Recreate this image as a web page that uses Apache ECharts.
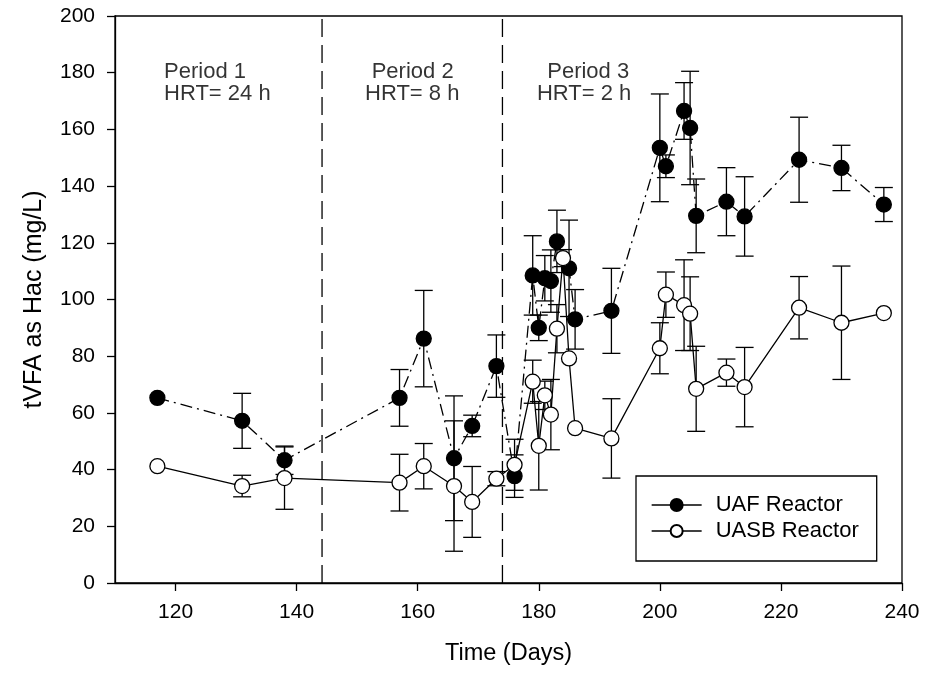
<!DOCTYPE html>
<html><head><meta charset="utf-8">
<script src="https://cdn.jsdelivr.net/npm/echarts@6/dist/echarts.min.js"></script>
<style>html,body{margin:0;padding:0;background:#fff}#c{width:925px;height:680px}</style>
</head><body><div id="c"></div>
<script>
// ---- data ----
const uafDays   = [117, 131, 138, 157, 161, 166, 169, 173, 176, 179, 180, 181, 182, 183, 185, 186, 192, 200, 201, 204, 205, 206, 211, 214, 223, 230, 237];
const uafValues = [65.3, 57.2, 43.3, 65.3, 86.2, 44.0, 55.4, 76.5, 37.7, 108.5, 90.0, 107.5, 106.5, 120.5, 111.0, 93.0, 96.0, 153.5, 147.0, 166.5, 160.5, 129.5, 134.5, 129.3, 149.3, 146.4, 133.5];
const uafErrors = [0, 9.7, 5.0, 10, 17, 22, 3.8, 11, 7.5, 14, 4.5, 8, 11, 11, 17, 10.5, 15, 19, 4, 10, 20, 13, 12, 14, 15, 8, 6];

const uasbDays   = [117, 131, 138, 157, 161, 166, 169, 173, 176, 179, 180, 181, 182, 183, 184, 185, 186, 192, 200, 201, 204, 205, 206, 211, 214, 223, 230, 237];
const uasbValues = [41.2, 34.2, 37.0, 35.4, 41.2, 34.2, 28.6, 36.8, 41.7, 71.0, 48.4, 66.2, 59.4, 89.7, 114.6, 79.2, 54.6, 51.0, 82.8, 101.7, 98.0, 95.0, 68.5, 74.2, 69.1, 97.1, 91.8, 95.2];
const uasbErrors = [0, 3.8, 11, 10, 8, 23, 12.5, 2.5, 9, 7.6, 15.6, 5, 12.4, 8.5, 3, 0, 0, 14, 9, 8, 16, 13, 15, 4.8, 14, 11, 20, 0];

const periodBoundaries = [144.2, 174];
const periodTexts  = ['Period 1', 'HRT= 24 h', 'Period 2', 'HRT= 8 h', 'Period 3', 'HRT= 2 h'];
const periodTextX  = [118.1, 118.1, 152.4, 151.3, 181.4, 179.7];
const periodTextY  = [180.3, 172.5, 180.3, 172.5, 180.3, 172.5];

const xTickLabels = [120, 140, 160, 180, 200, 220, 240];
const yTickLabels = [0, 20, 40, 60, 80, 100, 120, 140, 160, 180, 200];

const seriesNames = ['UAF Reactor', 'UASB Reactor'];
// --------------------------------------

const FONT = '"Liberation Sans", Arial, Helvetica, sans-serif';
const zip = (xs, ys) => xs.map((x, i) => [x, ys[i]]);
const errData = (xs, ys, es) => xs.map((x, i) => [x, ys[i] - es[i], ys[i] + es[i], es[i]]).filter(d => d[3] > 0);

function errRender(params, api) {
  const x = api.value(0), lo = api.value(1), hi = api.value(2);
  const pLo = api.coord([x, lo]), pHi = api.coord([x, hi]);
  const w = 9;
  const style = { stroke: '#000', lineWidth: 1.3, fill: null };
  return { type: 'group', children: [
    { type: 'line', shape: { x1: pLo[0], y1: pLo[1], x2: pHi[0], y2: pHi[1] }, style },
    { type: 'line', shape: { x1: pLo[0] - w, y1: pLo[1], x2: pLo[0] + w, y2: pLo[1] }, style },
    { type: 'line', shape: { x1: pHi[0] - w, y1: pHi[1], x2: pHi[0] + w, y2: pHi[1] }, style }
  ]};
}

const chart = echarts.init(document.getElementById('c'), null, { renderer: 'canvas' });
const axisCommon = {
  axisLine: { show: true, lineStyle: { color: '#000', width: 1.3 } },
  axisTick: { show: true, inside: false, length: 8, lineStyle: { color: '#000', width: 1.3 } },
  splitLine: { show: false }
};

chart.setOption({
  animation: false,
  backgroundColor: '#fff',
  grid: { left: 115, right: 23, top: 16, bottom: 97, show: true, borderColor: '#000', borderWidth: 1.3, containLabel: false, outerBoundsMode: 'none' },
  xAxis: Object.assign({}, axisCommon, {
    type: 'value', min: 110, max: 240,
    name: 'Time (Days)', nameLocation: 'middle', nameGap: 59,
    nameTextStyle: { color: '#000', fontSize: 23.5, fontFamily: FONT },
    axisTick: Object.assign({}, axisCommon.axisTick, { customValues: xTickLabels }),
    axisLabel: { customValues: xTickLabels, color: '#000', fontSize: 21, fontFamily: FONT, margin: 19 }
  }),
  yAxis: Object.assign({}, axisCommon, {
    type: 'value', min: 0, max: 200, interval: 20,
    name: 'tVFA as Hac (mg/L)', nameLocation: 'middle', nameGap: 68,
    nameTextStyle: { color: '#000', fontSize: 25, fontFamily: FONT },
    axisTick: Object.assign({}, axisCommon.axisTick, { customValues: yTickLabels }),
    axisLabel: { customValues: yTickLabels, color: '#000', fontSize: 21, fontFamily: FONT, margin: 20 }
  }),
  legend: {
    data: seriesNames, orient: 'vertical', left: 636, top: 476,
    padding: [18, 18, 19, 15], itemGap: 4, itemWidth: 50, itemHeight: 15,
    borderColor: '#000', borderWidth: 1.3, backgroundColor: '#fff',
    textStyle: { fontSize: 22, color: '#000', fontFamily: FONT, lineHeight: 22, padding: [0, 0, 0, 9] },
    lineStyle: { type: 'solid', width: 1.3, color: '#000' }
  },
  series: [
    { type: 'custom', name: 'errUAF', renderItem: errRender, data: errData(uafDays, uafValues, uafErrors), encode: { x: 0, y: [1, 2] }, z: 1, silent: true },
    { type: 'custom', name: 'errUASB', renderItem: errRender, data: errData(uasbDays, uasbValues, uasbErrors), encode: { x: 0, y: [1, 2] }, z: 1, silent: true },
    ...periodBoundaries.map(b => ({
      type: 'line', name: 'boundary', data: [[b, 0], [b, 200]], symbol: 'none', z: 1, silent: true,
      lineStyle: { color: '#000', width: 1.3, type: [18, 8] }
    })),
    {
      type: 'line', name: seriesNames[0], data: zip(uafDays, uafValues),
      symbol: 'circle', symbolSize: 15, z: 3,
      itemStyle: { color: '#000', borderColor: '#000', borderWidth: 1.3 },
      lineStyle: { color: '#000', width: 1.3, type: [12, 5, 2, 5] }
    },
    {
      type: 'line', name: seriesNames[1], data: zip(uasbDays, uasbValues),
      symbol: 'circle', symbolSize: 15, z: 4,
      itemStyle: { color: '#fff', borderColor: '#000', borderWidth: 1.3 },
      lineStyle: { color: '#000', width: 1.3, type: 'solid' }
    },
    {
      type: 'scatter', name: 'annotations', silent: true, z: 5,
      data: periodTexts.map((t, i) => ({ value: [periodTextX[i], periodTextY[i]], name: t })),
      symbolSize: 1, itemStyle: { color: 'rgba(0,0,0,0)' },
      label: { show: true, position: 'inside', align: 'left', verticalAlign: 'middle', formatter: p => p.name, color: '#000', fontSize: 22, fontFamily: FONT }
    }
  ]
});
</script>
</body></html>
